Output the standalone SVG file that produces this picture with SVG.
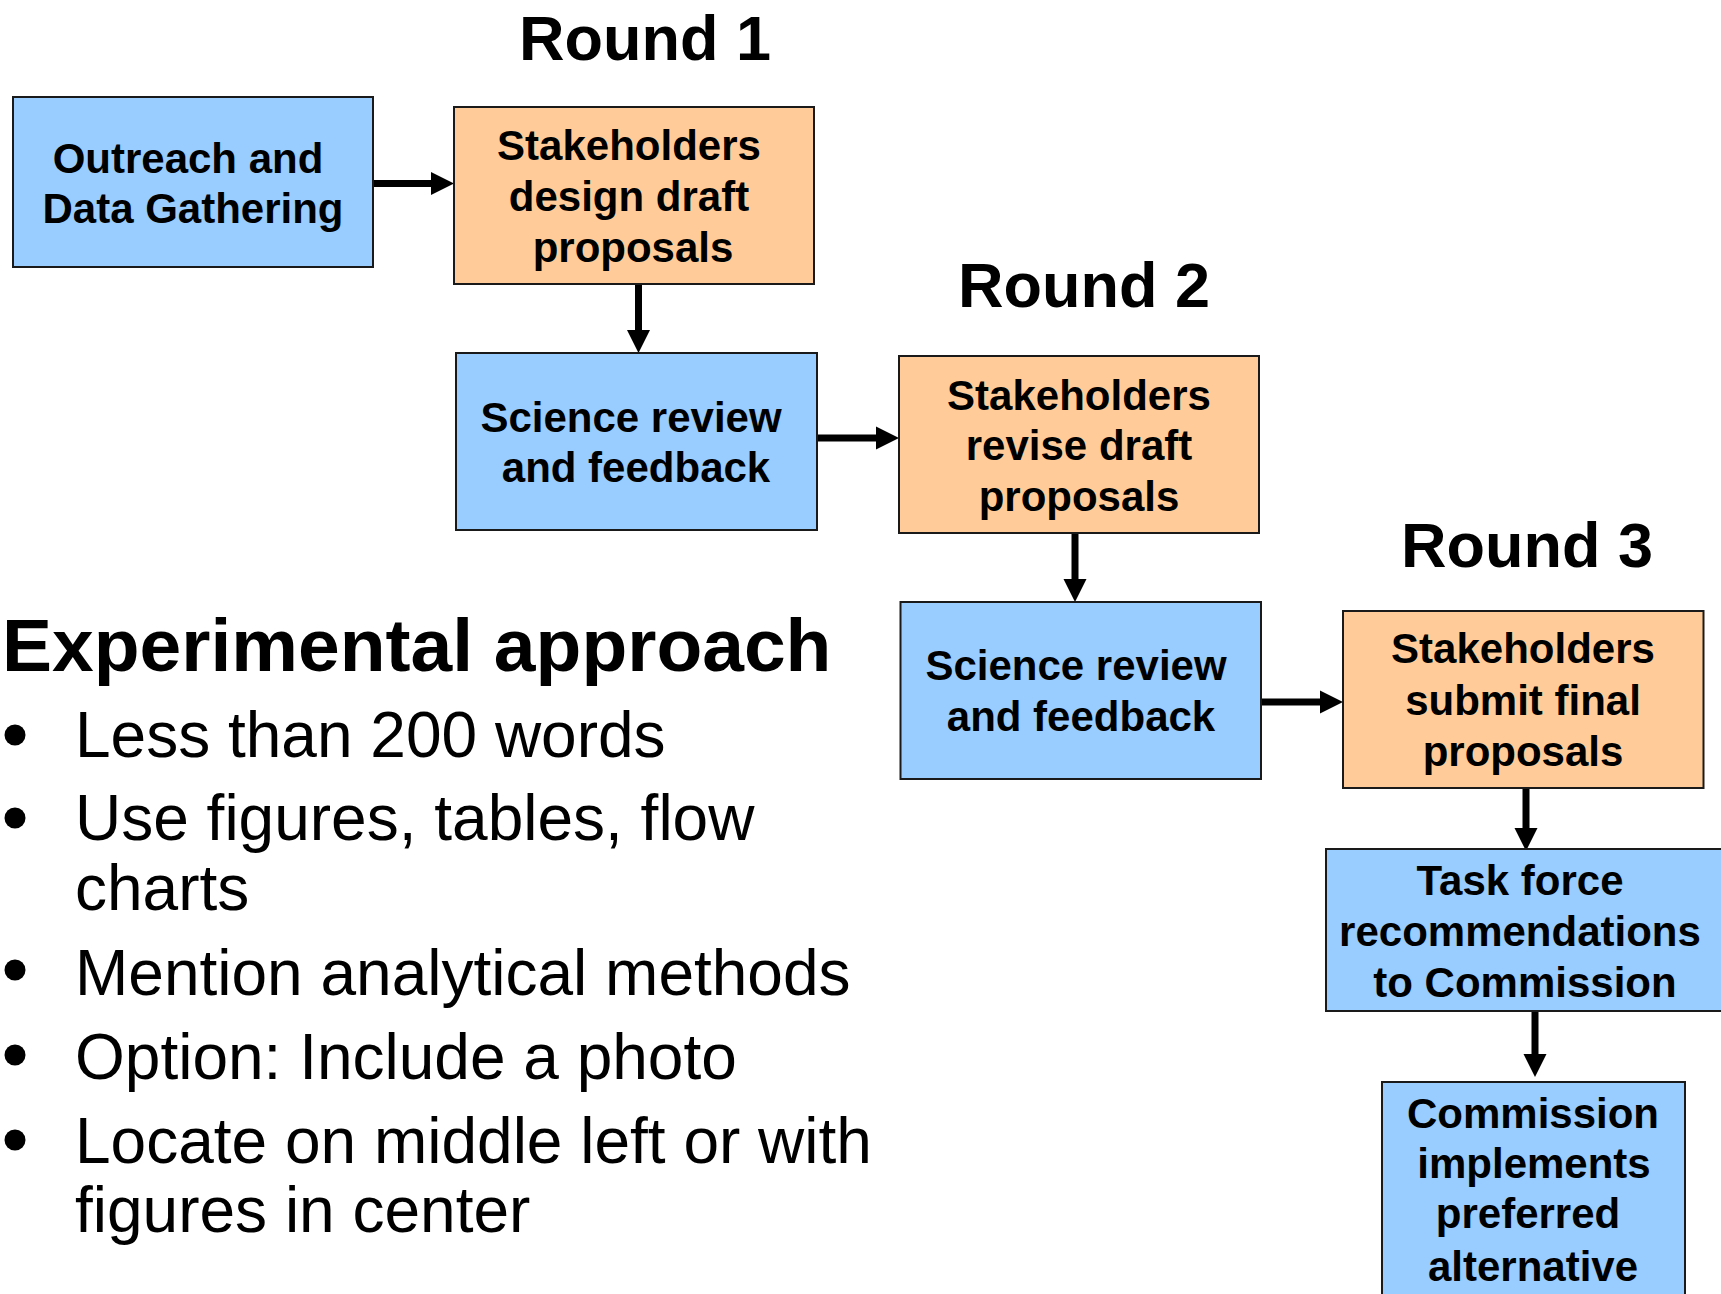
<svg xmlns="http://www.w3.org/2000/svg" width="1721" height="1294" viewBox="0 0 1721 1294">
<style>
.box{stroke:#1a1a1a;stroke-width:2}
.blue{fill:#99CCFF}
.orange{fill:#FFCC99}
.bt{font-family:"Liberation Sans",Arial,sans-serif;font-weight:bold;font-size:42px;fill:#000;text-anchor:middle}
.title{font-family:"Liberation Sans",Arial,sans-serif;font-weight:bold;font-size:63px;fill:#000}
.head{font-family:"Liberation Sans",Arial,sans-serif;font-weight:bold;font-size:75px;fill:#000}
.bul{font-family:"Liberation Sans",Arial,sans-serif;font-size:64px;fill:#000}
.conn{stroke:#000;stroke-width:7;fill:none;marker-end:url(#ah)}
</style>
<defs>
<marker id="ah" markerUnits="userSpaceOnUse" markerWidth="24" markerHeight="24" refX="0" refY="11.5" orient="auto" overflow="visible">
<path d="M0,0 L23,11.5 L0,23 Z" fill="#000"/>
</marker>
</defs>
<rect width="1721" height="1294" fill="#fff"/>

<text class="title" x="519" y="60">Round 1</text>
<text class="title" x="958" y="307">Round 2</text>
<text class="title" x="1401" y="567">Round 3</text>

<g id="connectors">
<path class="conn" d="M373,183.5 H431"/>
<path class="conn" d="M638.5,284 V330"/>
<path class="conn" d="M817,438 H876"/>
<path class="conn" d="M1075,533 V579"/>
<path class="conn" d="M1261,702 H1320"/>
<path class="conn" d="M1526,788 V828"/>
<path class="conn" d="M1535,1011 V1054"/>
</g>

<g id="outreach">
<rect class="box blue" x="13" y="97" width="360" height="170"/>
<text class="bt" x="188" y="173">Outreach and</text>
<text class="bt" x="193" y="223">Data Gathering</text>
</g>
<g id="design">
<rect class="box orange" x="454" y="107" width="360" height="177"/>
<text class="bt" x="629" y="160">Stakeholders</text>
<text class="bt" x="629" y="211">design draft</text>
<text class="bt" x="633" y="262">proposals</text>
</g>
<g id="review1">
<rect class="box blue" x="456" y="353" width="361" height="177"/>
<text class="bt" x="631" y="432">Science review</text>
<text class="bt" x="636" y="482">and feedback</text>
</g>
<g id="revise">
<rect class="box orange" x="899" y="356" width="360" height="177"/>
<text class="bt" x="1079" y="410">Stakeholders</text>
<text class="bt" x="1079" y="460">revise draft</text>
<text class="bt" x="1079" y="511">proposals</text>
</g>
<g id="review2">
<rect class="box blue" x="900.5" y="602" width="360.5" height="177"/>
<text class="bt" x="1076" y="680">Science review</text>
<text class="bt" x="1081" y="731">and feedback</text>
</g>
<g id="submit">
<rect class="box orange" x="1343" y="611" width="360.5" height="177"/>
<text class="bt" x="1523" y="663">Stakeholders</text>
<text class="bt" x="1523" y="715">submit final</text>
<text class="bt" x="1523" y="766">proposals</text>
</g>
<g id="taskforce">
<rect class="box blue" x="1326" y="849" width="405" height="162"/>
<text class="bt" x="1520" y="895">Task force</text>
<text class="bt" x="1520" y="946">recommendations</text>
<text class="bt" x="1525" y="997">to Commission</text>
</g>
<g id="commission">
<rect class="box blue" x="1382" y="1082" width="303" height="230"/>
<text class="bt" x="1533" y="1128">Commission</text>
<text class="bt" x="1534" y="1178">implements</text>
<text class="bt" x="1528" y="1228">preferred</text>
<text class="bt" x="1533" y="1281">alternative</text>
</g>

<g id="approach">
<text class="head" x="2" y="671">Experimental approach</text>
<circle cx="15" cy="735" r="10.5"/>
<text class="bul" x="75" y="757">Less than 200 words</text>
<circle cx="15" cy="818" r="10.5"/>
<text class="bul" x="75" y="840">Use figures, tables, flow</text>
<text class="bul" x="75" y="910">charts</text>
<circle cx="15" cy="970" r="10.5"/>
<text class="bul" x="75" y="995">Mention analytical methods</text>
<circle cx="15" cy="1055" r="10.5"/>
<text class="bul" x="75" y="1079">Option: Include a photo</text>
<circle cx="15" cy="1140" r="10.5"/>
<text class="bul" x="75" y="1163">Locate on middle left or with</text>
<text class="bul" x="75" y="1232">figures in center</text>
</g>
</svg>
